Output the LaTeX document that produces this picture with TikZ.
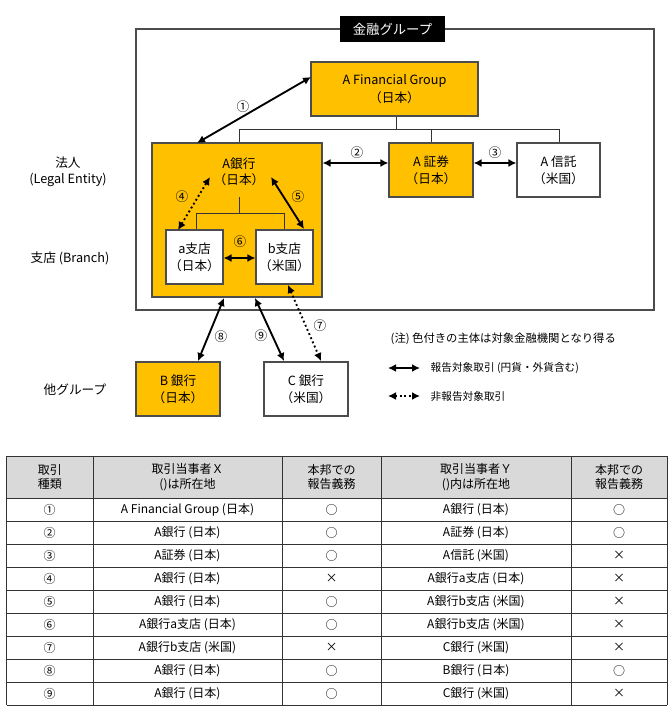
\documentclass[tikz,border=0pt]{standalone}
\usepackage{fontspec}
\setmainfont{Noto Sans CJK JP}
\usetikzlibrary{arrows.meta}
\definecolor{gold}{HTML}{FFC000}
\definecolor{hdr}{HTML}{D9D9D9}
\tikzset{
 ent/.style={draw=black!70,thick,align=center,inner sep=0pt,font=\fontsize{9.5}{13}\selectfont},
 ob/.style={ent,fill=gold},
 wb/.style={ent,fill=white},
 rel/.style={{Latex[length=6pt,width=6pt]}-{Latex[length=6pt,width=6pt]},line width=1.4pt},
 nrel/.style={rel,dotted},
 lbl/.style={font=\fontsize{9.5}{12}\selectfont},
 tree/.style={draw=black!80,line width=0.6pt},
 cell/.style={font=\fontsize{9}{11}\selectfont,align=center},
}
\begin{document}
\begin{tikzpicture}[x=0.75pt,y=-0.75pt]
\useasboundingbox (0,0) rectangle (672,715);
\draw[black!70,line width=0.8pt] (136,29) rectangle (654,310);
\node[fill=black,text=white,minimum width=105*0.75pt,minimum height=26*0.75pt,inner sep=0pt,font=\fontsize{10}{12}\selectfont] (title) at (392.5,29) {金融グループ};
% tree
\draw[tree] (396,116) -- (396,129) (239,129) -- (559,129) (239,129)--(239,143) (431,129)--(431,143) (559,129)--(559,143);
\node[ob,minimum width=167*0.75pt,minimum height=54*0.75pt] (afg) at (394.5,89) {A Financial Group\\（日本）};
\node[ob,minimum width=170*0.75pt,minimum height=154*0.75pt] (ab) at (237,220) {};
\node[lbl,align=center] (abt) at (239,172) {A銀行\\（日本）};
\node[ob,minimum width=84*0.75pt,minimum height=54*0.75pt] (as) at (431,170) {A 証券\\（日本）};
\node[wb,minimum width=83*0.75pt,minimum height=54*0.75pt] (at) at (558.5,170) {A 信託\\（米国）};
\draw[tree] (239,197)--(239,213) (196,213)--(284,213) (196,213)--(196,230) (284,213)--(284,230);
\node[wb,minimum width=57*0.75pt,minimum height=54*0.75pt] (ba) at (194.5,257) {a支店\\（日本）};
\node[wb,minimum width=57*0.75pt,minimum height=54*0.75pt] (bb) at (284.5,257) {b支店\\（米国）};
\node[ob,minimum width=84*0.75pt,minimum height=54*0.75pt] (bbk) at (178,389) {B 銀行\\（日本）};
\node[wb,minimum width=84*0.75pt,minimum height=54*0.75pt] (cbk) at (306,389) {C 銀行\\（米国）};
% left labels
\node[lbl,align=center] (le) at (68,172) {法人\\(Legal Entity)};
\node[lbl] (br) at (70,258) {支店 (Branch)};
\node[lbl] (og) at (75,390) {他グループ};
% arrows
\coordinate (p1) at (197,143); \coordinate (q1) at (311,77);
\draw[rel] (p1)--(q1); \node[lbl] (n1) at (243,107) {①};
\draw[rel] (ab.east|-0,163)--(as.west|-0,163); \node[lbl] (n2) at (357,153) {②};
\draw[rel] (as.east|-0,163)--(at.west|-0,163); \node[lbl] (n3) at (495,153) {③};
\coordinate (p4) at (178,230); \coordinate (q4) at (210,177);
\draw[nrel] (p4)--(q4); \node[lbl] (n4) at (182,197) {④};
\coordinate (p5) at (271,177); \coordinate (q5) at (304,229);
\draw[rel] (p5)--(q5); \node[lbl] (n5) at (298,197) {⑤};
\draw[rel] (ba.east|-0,258)--(bb.west|-0,258); \node[lbl] (n6) at (240,242) {⑥};
\coordinate (p8) at (224,298); \coordinate (q8) at (198,361);
\draw[rel] (p8)--(q8); \node[lbl] (n8) at (221,337) {⑧};
\coordinate (p9) at (255,298); \coordinate (q9) at (284,361);
\draw[rel] (p9)--(q9); \node[lbl] (n9) at (261,336) {⑨};
\coordinate (p7) at (288,285); \coordinate (q7) at (321,361);
\draw[nrel] (p7)--(q7); \node[lbl] (n7) at (320,326) {⑦};
% legend
\node[lbl,anchor=west,font=\fontsize{8.5}{10}\selectfont] (note) at (386,339) {(注) 色付きの主体は対象金融機関となり得る};
\coordinate (l1a) at (388,368); \coordinate (l1b) at (420,368);
\draw[rel] (l1a)--(l1b);
\node[lbl,anchor=west,font=\fontsize{8}{10}\selectfont] (lt1) at (426,368) {報告対象取引 (円貨・外貨含む)};
\coordinate (l2a) at (388,396); \coordinate (l2b) at (420,396);
\draw[nrel] (l2a)--(l2b);
\node[lbl,anchor=west,font=\fontsize{8}{10}\selectfont] (lt2) at (426,396) {非報告対象取引};
% table
\fill[hdr] (6.5,456) rectangle (667,498);
\foreach \x in {6.5,93,282,381,571,667} \draw[black!80,line width=0.6pt] (\x,456)--(\x,705);
\draw[black!80,line width=0.6pt] (6.5,456)--(667,456);
\foreach \i in {0,...,9} \draw[black!80,line width=0.6pt] (6.5,498+\i*23)--(667,498+\i*23);
\node[cell] (h1) at (49.75,477) {取引\\種類};
\node[cell] (h2) at (187.5,477) {取引当事者Ｘ\\()は所在地};
\node[cell] (h3) at (331.5,477) {本邦での\\報告義務};
\node[cell] (h4) at (476,477) {取引当事者Ｙ\\()内は所在地};
\node[cell] (h5) at (619,477) {本邦での\\報告義務};
\foreach [count=\i] \a/\b/\c/\d/\e in {①/A Financial Group (日本)/○/A銀行 (日本)/○,
②/A銀行 (日本)/○/A証券 (日本)/○,
③/A証券 (日本)/○/A信託 (米国)/×,
④/A銀行 (日本)/×/A銀行a支店 (日本)/×,
⑤/A銀行 (日本)/○/A銀行b支店 (米国)/×,
⑥/A銀行a支店 (日本)/○/A銀行b支店 (米国)/×,
⑦/A銀行b支店 (米国)/×/C銀行 (米国)/×,
⑧/A銀行 (日本)/○/B銀行 (日本)/○,
⑨/A銀行 (日本)/○/C銀行 (米国)/×}{
 \node[cell] (r\i a) at (49.75,486.5+\i*23) {\a};
 \node[cell] (r\i b) at (187.5,486.5+\i*23) {\b};
 \node[cell] (r\i c) at (331.5,486.5+\i*23) {\c};
 \node[cell] (r\i d) at (476,486.5+\i*23) {\d};
 \node[cell] (r\i e) at (619,486.5+\i*23) {\e};
}
\end{tikzpicture}
\end{document}
